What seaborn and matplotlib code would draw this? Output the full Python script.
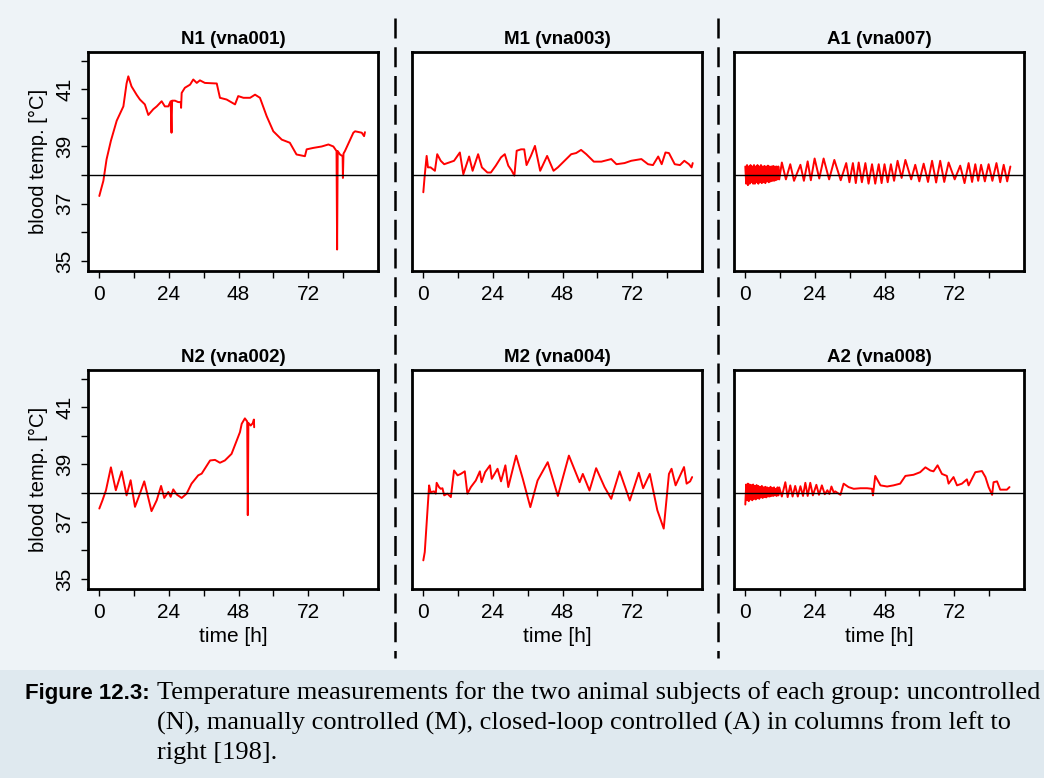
import matplotlib
matplotlib.use("Agg")
import matplotlib.pyplot as plt
import seaborn as sns
from matplotlib.lines import Line2D
from matplotlib.patches import Rectangle

# ---- data ----
n1_t = [0.0, 0.6, 1.4, 2.5, 4.0, 6.0, 8.3, 9.4, 10.0, 11.1, 12.9, 14.0, 15.7, 16.9, 18.6,
        19.8, 21.5, 22.6, 23.8, 24.6, 24.9, 25.1, 26.1, 27.2, 28.1, 28.2, 28.4, 29.5,
        31.3, 32.4, 33.6, 34.7, 36.4, 40.5, 41.6, 43.9, 46.8, 47.9, 49.7, 52.0, 53.7,
        55.4, 57.7, 60.0, 62.9, 65.7, 68.0, 70.9, 71.5, 73.8, 76.7, 79.0, 80.7, 81.8,
        82.0, 82.2, 83.0, 83.9, 84.0, 84.2, 84.7, 87.6, 88.2, 90.5, 91.3, 91.6]
n1_v = [37.27, 37.5, 37.8, 38.55, 39.2, 39.9, 40.4, 41.2, 41.45, 41.1, 40.8, 40.64, 40.47,
        40.1, 40.3, 40.4, 40.58, 40.4, 40.4, 40.58, 39.48, 40.6, 40.6, 40.55, 40.55, 40.35,
        40.87, 41.05, 41.16, 41.34, 41.22, 41.31, 41.22, 41.2, 40.7, 40.64, 40.47, 40.76,
        40.7, 40.7, 40.81, 40.7, 40.06, 39.53, 39.24, 39.13, 38.72, 38.66, 38.9, 38.95,
        39.0, 39.07, 39.0, 38.84, 35.4, 38.84, 38.72, 38.66, 37.9, 38.75, 38.84, 39.48,
        39.53, 39.48, 39.36, 39.5]

n2_t = [0.0, 1.1, 2.3, 4.0, 5.7, 7.7, 9.4, 10.8, 12.3, 14.0, 15.5, 18.0, 19.8, 21.3, 22.4,
        23.8, 24.6, 25.5, 26.7, 28.4, 30.1, 31.8, 34.1, 35.3, 38.2, 39.9, 41.6, 43.3, 45.6,
        47.4, 48.5, 49.1, 50.2, 51.0, 51.2, 51.4, 52.2, 52.9, 53.3, 53.4]
n2_v = [37.46, 37.75, 38.1, 38.9, 38.1, 38.76, 37.92, 38.45, 37.52, 37.98, 38.41, 37.37,
        37.75, 38.25, 37.83, 38.04, 37.87, 38.13, 37.95, 37.83, 37.98, 38.33, 38.62, 38.68,
        39.14, 39.16, 39.06, 39.14, 39.37, 39.84, 40.13, 40.42, 40.61, 40.5, 37.23, 40.45,
        40.36, 40.44, 40.57, 40.3]

m1_t = [0.0, 0.5, 1.15, 1.6, 2.5, 4.0, 4.8, 6.0, 7.2, 8.9, 10.6, 12.6, 13.8, 15.8, 17.0,
        18.9, 20.2, 22.1, 23.3, 25.0, 26.8, 28.1, 29.3, 30.4, 31.4, 32.2, 33.7, 34.8, 35.6,
        37.1, 38.5, 40.3, 42.7, 44.9, 46.4, 48.7, 51.0, 52.7, 54.4, 56.2, 58.8, 61.4, 64.8,
        66.6, 69.4, 71.7, 75.2, 77.5, 79.2, 81.0, 82.2, 83.5, 84.7, 86.7, 88.5, 90.0, 91.6,
        92.5, 92.9]
m1_v = [37.4, 38.0, 38.67, 38.27, 38.27, 38.15, 38.73, 38.5, 38.38, 38.44, 38.5, 38.79,
        38.03, 38.65, 38.15, 38.73, 38.27, 38.09, 38.09, 38.33, 38.62, 38.73, 38.33, 38.17,
        37.98, 38.85, 38.9, 38.9, 38.35, 38.67, 39.02, 38.15, 38.67, 38.15, 38.27, 38.5,
        38.73, 38.77, 38.88, 38.73, 38.47, 38.47, 38.56, 38.38, 38.42, 38.5, 38.56, 38.38,
        38.35, 38.65, 38.38, 38.79, 38.77, 38.38, 38.35, 38.5, 38.38, 38.27, 38.42]

m2_t = [0.0, 0.5, 2.0, 2.5, 3.7, 4.3, 4.6, 5.4, 6.0, 6.6, 7.2, 8.3, 9.5, 10.6, 11.8, 12.9,
        14.3, 15.2, 16.4, 18.1, 19.5, 20.1, 21.3, 23.0, 23.6, 25.6, 26.8, 28.3, 29.3, 32.0,
        34.3, 36.9, 39.4, 42.9, 46.4, 50.2, 53.9, 55.0, 57.3, 59.6, 62.5, 64.8, 67.7, 71.2,
        74.3, 75.8, 78.1, 80.7, 82.9, 84.7, 85.6, 87.0, 89.9, 90.8, 92.0, 92.7]
m2_v = [35.65, 35.94, 38.27, 38.03, 38.06, 37.98, 38.36, 38.21, 38.15, 38.17, 37.92, 37.98,
        37.86, 38.79, 38.62, 38.67, 38.76, 37.98, 38.21, 38.44, 38.76, 38.38, 38.73, 38.97,
        38.5, 38.85, 38.41, 38.97, 38.21, 39.31, 38.5, 37.51, 38.44, 39.08, 37.9, 39.31,
        38.38, 38.67, 38.09, 38.87, 38.21, 37.8, 38.76, 37.74, 38.71, 38.17, 38.67, 37.4,
        36.76, 38.67, 38.85, 38.27, 38.91, 38.33, 38.41, 38.56]

a1_t = [0.0, 0.3, 0.6, 0.9, 1.2, 1.5, 1.8, 2.1, 2.4, 2.7, 3.0, 3.3, 3.6, 3.9, 4.2, 4.5,
        4.8, 5.1, 5.4, 5.7, 6.0, 6.3, 6.6, 6.9, 7.2, 7.5, 7.8, 8.1, 8.4, 8.7, 9.0, 9.3,
        9.6, 9.9, 10.2, 10.5, 10.8, 11.1, 11.4, 11.7,
        12.6, 14.0, 15.5, 16.8, 19.0, 20.2, 21.5, 22.6, 23.9, 25.5, 27.0, 28.9, 30.7, 32.9,
        34.8, 35.9, 37.1, 38.1, 39.1, 40.2, 41.4, 42.5, 43.7, 44.8, 46.0, 47.0, 48.0, 49.1,
        50.2, 51.3, 52.5, 53.9, 55.2, 57.2, 58.6, 60.0, 61.5, 63.0, 64.4, 65.8, 67.2, 68.6,
        70.1, 72.2, 74.1, 75.6, 77.0, 78.2, 79.3, 80.3, 81.3, 82.6, 83.9, 85.2, 86.6, 87.9,
        89.1, 90.3, 91.4]
a1_v = [38.3, 37.7, 38.35, 37.65, 38.3, 37.7, 38.35, 37.75, 38.3, 37.7, 38.35, 37.7, 38.3,
        37.75, 38.35, 37.7, 38.3, 37.75, 38.35, 37.72, 38.3, 37.75, 38.32, 37.72, 38.3,
        37.78, 38.33, 37.75, 38.3, 37.78, 38.3, 37.8, 38.32, 37.8, 38.3, 37.82, 38.3, 37.85,
        38.3, 37.85,
        38.44, 37.85, 38.38, 37.8, 38.36, 37.8, 38.48, 37.82, 38.58, 37.88, 38.58, 37.85,
        38.53, 37.82, 38.42, 37.75, 38.42, 37.72, 38.44, 37.75, 38.42, 37.7, 38.38, 37.7,
        38.38, 37.72, 38.38, 37.75, 38.38, 37.8, 38.5, 37.9, 38.53, 37.85, 38.36, 37.78,
        38.4, 37.76, 38.5, 37.74, 38.5, 37.76, 38.44, 37.85, 38.33, 37.72, 38.42, 37.76,
        38.38, 37.8, 38.36, 37.78, 38.38, 37.8, 38.42, 37.75, 38.36, 37.78, 38.3]

a2_t = [0.0, 0.3, 0.6, 0.9, 1.2, 1.5, 1.8, 2.1, 2.4, 2.7, 3.0, 3.3, 3.6, 3.9, 4.2, 4.5,
        4.8, 5.1, 5.4, 5.7, 6.0, 6.3, 6.6, 6.9, 7.2, 7.5, 7.8, 8.1, 8.4, 8.7, 9.0, 9.3,
        9.6, 9.9, 10.2, 10.5, 10.8, 11.1, 11.4, 11.7,
        12.6, 13.8, 14.6, 15.5, 16.3, 17.2, 18.1, 19.0, 19.9, 20.7, 21.5, 22.4, 23.3, 24.5,
        25.4, 26.4, 27.4, 28.3, 29.0, 29.7, 30.5, 31.0, 32.8, 33.9, 35.6, 37.4, 39.7, 42.0,
        43.7, 44.0, 44.8, 46.6, 48.9, 51.1, 53.4, 55.2, 58.0, 60.3, 62.1, 63.8, 64.9, 66.3,
        67.8, 69.5, 70.1, 71.8, 73.0, 74.7, 76.4, 77.0, 79.3, 81.6, 82.8, 83.9, 85.1, 85.6,
        86.8, 87.9, 90.2, 91.1]
a2_v = [37.6, 38.3, 37.75, 38.33, 37.72, 38.3, 37.78, 38.28, 37.75, 38.3, 37.8, 38.25,
        37.78, 38.28, 37.82, 38.25, 37.8, 38.22, 37.85, 38.25, 37.83, 38.2, 37.86, 38.22,
        37.85, 38.2, 37.88, 38.18, 37.88, 38.22, 37.9, 38.18, 37.9, 38.2, 37.92, 38.15,
        37.9, 38.2, 37.92, 38.2,
        37.88, 38.38, 37.86, 38.27, 37.88, 38.25, 37.88, 38.24, 37.9, 38.36, 37.9, 38.36,
        37.92, 38.29, 37.94, 38.27, 37.96, 38.1, 37.97, 38.23, 38.02, 38.06, 37.94, 38.33,
        38.21, 38.15, 38.17, 38.17, 38.15, 37.92, 38.6, 38.27, 38.23, 38.27, 38.33, 38.6,
        38.64, 38.73, 38.9, 38.79, 38.76, 38.97, 38.67, 38.6, 38.33, 38.56, 38.27, 38.33,
        38.48, 38.27, 38.73, 38.77, 38.56, 38.21, 37.94, 38.38, 38.41, 38.12, 38.12, 38.21]

titles = ["N1 (vna001)", "M1 (vna003)", "A1 (vna007)",
          "N2 (vna002)", "M2 (vna004)", "A2 (vna008)"]
series = [(n1_t, n1_v), (m1_t, m1_v), (a1_t, a1_v),
          (n2_t, n2_v), (m2_t, m2_v), (a2_t, a2_v)]
x_ticks = [0, 12, 24, 36, 48, 60, 72, 84]
x_labels = ["0", "", "24", "", "48", "", "72", ""]
y_ticks = [35, 36, 37, 38, 39, 40, 41, 42]
y_labels = ["35", "", "37", "", "39", "", "41", ""]
setpoint = 38

caption_head = "Figure 12.3:"
caption_lines = [
    "Temperature measurements for the two animal subjects of each group: uncontrolled",
    "(N), manually controlled (M), closed-loop controlled (A) in columns from left to",
    "right [198].",
]

sns.set_style("ticks")
plt.rcParams["font.family"] = ["Liberation Sans", "DejaVu Sans"]
plt.rcParams["text.color"] = "black"
plt.rcParams["axes.labelcolor"] = "black"
plt.rcParams["xtick.color"] = "black"
plt.rcParams["ytick.color"] = "black"

W, H = 1044, 778
BG = "#eef3f7"
fig = plt.figure(figsize=(W / 100, H / 100), dpi=100, facecolor=BG)

# caption band
fig.patches.append(Rectangle((0, 0), 1, (H - 670) / H, transform=fig.transFigure,
                             facecolor="#dfe9ef", edgecolor="none", zorder=0))

lefts = [88, 412, 734]
tops = [52, 370]
pw, ph = 290, 219

for i, (title, (t, v)) in enumerate(zip(titles, series)):
    row, col = divmod(i, 3)
    x0, y0 = lefts[col], tops[row]
    ax = fig.add_axes([x0 / W, 1 - (y0 + ph) / H, pw / W, ph / H])
    ax.set_facecolor("white")
    sns.lineplot(x=t, y=v, ax=ax, color="red", lw=1.4, sort=False, estimator=None)
    ax.axhline(setpoint, color="black", lw=1.0)
    ax.set_xlim(-3.9, 96.1)
    ax.set_ylim(34.65, 42.3)
    for sp in ax.spines.values():
        sp.set_visible(True)
        sp.set_linewidth(2.0)
        sp.set_color("black")
    ax.set_xticks(x_ticks)
    ax.set_xticklabels(x_labels)
    ax.tick_params(axis="both", direction="out", length=5, width=1, color="black",
                   labelsize=15, pad=5)
    ax.set_title(title, fontsize=13.5, fontweight="bold", pad=6)
    if col == 0:
        ax.set_yticks(y_ticks)
        ax.set_yticklabels(y_labels, rotation=90, va="center")
        ax.set_ylabel("blood temp. [°C]", fontsize=14.5)
        ax.yaxis.set_label_coords((38 - x0) / pw, 0.5)
        ax.yaxis.label.set_va("center")
    else:
        ax.set_yticks([])
        ax.set_ylabel("")
    if row == 1:
        ax.set_xlabel("time [h]", fontsize=15)
        ax.xaxis.set_label_coords(0.5, -(636 - (y0 + ph)) / ph)
        ax.xaxis.label.set_va("center")
    else:
        ax.set_xlabel("")

# dashed separators between groups
for xs in [395, 718]:
    fig.add_artist(Line2D([xs / W, xs / W], [1 - 18 / H, 1 - 658 / H],
                          transform=fig.transFigure, color="black", lw=1.8,
                          linestyle=(0, (8, 3.5))))

# caption
fig.text(150 / W, 1 - 693 / H, caption_head, ha="right", va="center", fontsize=16,
         fontweight="bold", family=["Liberation Sans Narrow", "Liberation Sans"])
for k, line in enumerate(caption_lines):
    fig.text(157 / W, 1 - (693 + 30 * k) / H, line, ha="left", va="center",
             fontsize=19, family=["Liberation Serif", "DejaVu Serif"])

fig.savefig("out.png", dpi=100, facecolor=BG)
